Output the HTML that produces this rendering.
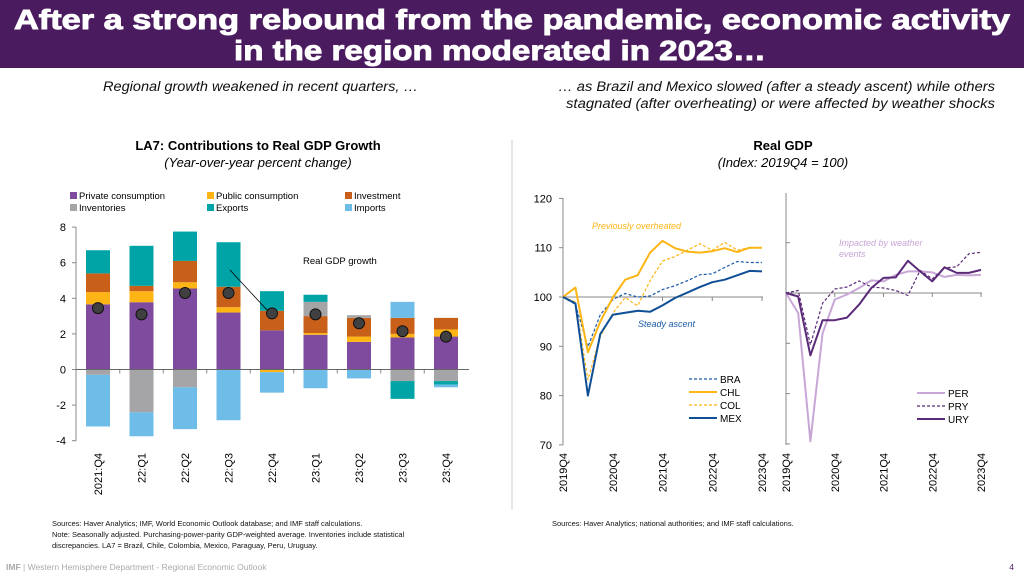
<!DOCTYPE html>
<html><head><meta charset="utf-8"><style>
body{margin:0;background:#fff;font-family:"Liberation Sans",Arial,sans-serif}
svg{display:block}
text{font-family:"Liberation Sans",Arial,sans-serif}
</style></head><body>
<svg id="s" width="1024" height="576" viewBox="0 0 1024 576">
<rect x="0" y="0" width="1024" height="68" fill="#4b1b5f"/>
<text x="14" y="29" font-size="28" font-weight="bold" fill="#fff" stroke="#fff" stroke-width="0.9" textLength="996" lengthAdjust="spacingAndGlyphs">After a strong rebound from the pandemic, economic activity</text>
<text x="234" y="60" font-size="28" font-weight="bold" fill="#fff" stroke="#fff" stroke-width="0.9" textLength="532" lengthAdjust="spacingAndGlyphs">in the region moderated in 2023…</text>
<text x="103" y="91" font-size="13.5" font-style="italic" fill="#111" textLength="315" lengthAdjust="spacingAndGlyphs">Regional growth weakened in recent quarters, …</text>
<text x="558" y="91" font-size="13.5" font-style="italic" fill="#111" textLength="437" lengthAdjust="spacingAndGlyphs">… as Brazil and Mexico slowed (after a steady ascent) while others</text>
<text x="566" y="108" font-size="13.5" font-style="italic" fill="#111" textLength="429" lengthAdjust="spacingAndGlyphs">stagnated (after overheating) or were affected by weather shocks</text>
<line x1="512" y1="140" x2="512" y2="510" stroke="#ddd" stroke-width="1.5"/>
<text x="258" y="150" text-anchor="middle" font-size="13" font-weight="bold">LA7: Contributions to Real GDP Growth</text>
<text x="258" y="167" text-anchor="middle" font-size="13" font-style="italic">(Year-over-year percent change)</text>
<text x="783" y="150" text-anchor="middle" font-size="13" font-weight="bold">Real GDP</text>
<text x="783" y="167" text-anchor="middle" font-size="13" font-style="italic">(Index: 2019Q4 = 100)</text>
<g id="left"></g><g id="right"></g>
<text x="52" y="526" font-size="7.5" fill="#111">Sources: Haver Analytics; IMF, World Economic Outlook database; and IMF staff calculations.</text>
<text x="52" y="537" font-size="7.5" fill="#111">Note: Seasonally adjusted. Purchasing-power-parity GDP-weighted average. Inventories include statistical</text>
<text x="52" y="548" font-size="7.5" fill="#111">discrepancies. LA7 = Brazil, Chile, Colombia, Mexico, Paraguay, Peru, Uruguay.</text>
<text x="552" y="526" font-size="7.5" fill="#111">Sources: Haver Analytics; national authorities; and IMF staff calculations.</text>
<text x="6" y="570" font-size="8.5" fill="#aaa"><tspan font-weight="bold">IMF</tspan> | Western Hemisphere Department - Regional Economic Outlook</text>
<text x="1014" y="570" font-size="8.5" fill="#4b1b5f" text-anchor="end">4</text>
</svg>
<script>
const NS="http://www.w3.org/2000/svg";
const quarters=["2021:Q4","22:Q1","22:Q2","22:Q3","22:Q4","23:Q1","23:Q2","23:Q3","23:Q4"];
const seriesNames=["Private consumption","Public consumption","Investment","Inventories","Exports","Imports"];
const seriesColors=["#7f4b9e","#fdb515","#c9601a","#a5a5a7","#00a4a7","#6dbde8"];
const privCons=[3.66,3.78,4.55,3.2,2.2,1.95,1.55,1.8,1.85];
const pubCons=[0.69,0.62,0.35,0.3,-0.15,0.1,0.3,0.2,0.4];
const investment=[1.05,0.3,1.2,1.15,1.1,0.95,1.05,0.9,0.65];
const inventories=[-0.3,-2.4,-1.0,0,0,0.8,0.15,-0.65,-0.65];
const exportsC=[1.3,2.25,1.65,2.5,1.1,0.4,0,-1.0,-0.2];
const importsC=[-2.9,-1.35,-2.35,-2.85,-1.15,-1.05,-0.5,0.9,-0.15];
const gdpGrowth=[3.45,3.1,4.3,4.3,3.15,3.1,2.6,2.15,1.85];
const leftTicks=[-4,-2,0,2,4,6,8];

const idxQuarters=["2019Q4","2020Q1","2020Q2","2020Q3","2020Q4","2021Q1","2021Q2","2021Q3","2021Q4","2022Q1","2022Q2","2022Q3","2022Q4","2023Q1","2023Q2","2023Q3","2023Q4"];
const BRA=[100,98.5,89.9,96.4,99.5,100.7,100,100.2,101.5,102.3,103.3,104.5,104.7,106,107.2,107,107];
const CHL=[100,101.9,88.8,95,99.9,103.5,104.4,109,111.4,109.9,109.2,109,109.3,109.9,109.1,110,110];
const COL=[100,99,83.2,92,96.7,99.9,98.2,103.3,107.3,108.2,109.5,110.8,109.5,111.1,109.5,110,110];
const MEX=[100,98.7,80,92.5,96.4,96.8,97.2,97,98.3,99.8,100.9,102,103,103.5,104.4,105.3,105.2];
const PER=[100,96,70.5,92,98.7,99.7,101,102.5,102.3,103.6,104.3,104.3,104.1,103.2,103.6,103.5,103.6];
const PRY=[100,100.5,89.7,98,100.8,101.2,102.4,101.2,101,100.5,99.5,104.5,102.8,105,105.2,107.8,108.1];
const URY=[100,99.3,87.6,94.6,94.6,95.1,97.7,101,103,103.1,106.4,104.3,102.3,105.1,104,104,104.6];
const idxTicks=[70,80,90,100,110,120];
const xLabels=["2019Q4","2020Q4","2021Q4","2022Q4","2023Q4"];

function el(tag,attrs,parent,txt){const e=document.createElementNS(NS,tag);for(const k in attrs)e.setAttribute(k,attrs[k]);if(txt!==undefined)e.textContent=txt;parent.appendChild(e);return e;}

// LEFT CHART
const L=document.getElementById('left');
const ly=v=>369.5-v*17.8;
const lx=i=>98+i*43.5;
const bw=24;
el('line',{x1:76,y1:ly(8),x2:76,y2:ly(-4),stroke:'#888'},L);
leftTicks.forEach(t=>{
  el('line',{x1:72,y1:ly(t),x2:76,y2:ly(t),stroke:'#888'},L);
  const tx=el('text',{x:66,y:ly(t)+4,'text-anchor':'end','font-size':11},L,String(t));
  
  
});
const comps=[privCons,pubCons,investment,inventories,exportsC,importsC];
quarters.forEach((q,i)=>{
  let pos=0,neg=0;
  comps.forEach((arr,k)=>{
    const v=arr[i]; if(!v) return;
    let y0,y1;
    if(v>0){y0=pos;pos+=v;y1=pos;}else{y0=neg;neg+=v;y1=neg;}
    const r=el('rect',{x:lx(i)-bw/2,y:Math.min(ly(y0),ly(y1)),width:bw,height:Math.abs(ly(y0)-ly(y1)),fill:seriesColors[k]},L);
    
    
  });
  const t=el('text',{x:0,y:0,'font-size':11,'text-anchor':'end',transform:`translate(${lx(i)+4},${453}) rotate(-90)`},L,q);
  
  
  if(i>0){el('line',{x1:lx(i)-21.75,y1:369.5,x2:lx(i)-21.75,y2:373.5,stroke:'#888'},L);}
});
el('line',{x1:76,y1:ly(0),x2:469,y2:ly(0),stroke:'#666'},L);
el('line',{x1:230,y1:270,x2:272,y2:ly(gdpGrowth[4])+2,stroke:'#000','stroke-width':0.8},L);
const ann=el('text',{x:303,y:264,'font-size':9.5},L,'Real GDP growth');


gdpGrowth.forEach((v,i)=>{
  const c=el('circle',{cx:lx(i),cy:ly(v),r:5.5,fill:'#404040',stroke:'#111','stroke-width':1},L);
  
  
});
// legend
const legPos=[[70,198],[207,198],[345,198],[70,210],[207,210],[345,210]];
seriesNames.forEach((n,k)=>{
  const g=el('g',{},L);
  
  
  el('rect',{x:legPos[k][0],y:legPos[k][1]-6,width:7,height:7,fill:seriesColors[k]},g);
  el('text',{x:legPos[k][0]+9,y:legPos[k][1]+1,'font-size':9.5},g,n);
});

// RIGHT CHART
const R=document.getElementById('right');
const ay=v=>297-(v-100)*4.93;
const ax=i=>563+i*12.44;
const by=v=>293-(v-100)*5.03;
const bx=i=>786+i*12.19;
el('line',{x1:563,y1:198,x2:563,y2:445,stroke:'#888'},R);
el('line',{x1:786,y1:193,x2:786,y2:445,stroke:'#888'},R);
idxTicks.forEach(t=>{
  el('line',{x1:559,y1:ay(t),x2:563,y2:ay(t),stroke:'#888'},R);
  const tx=el('text',{x:552,y:ay(t)+4,'text-anchor':'end','font-size':11},R,String(t));
  
  
  if(t<=110) el('line',{x1:786,y1:by(t),x2:790,y2:by(t),stroke:'#888'},R);
});
el('line',{x1:563,y1:ay(100),x2:763,y2:ay(100),stroke:'#888'},R);
el('line',{x1:786,y1:by(100),x2:982,y2:by(100),stroke:'#888'},R);
xLabels.forEach((lab,j)=>{
  [[ax,'a'],[bx,'b']].forEach(([fx,p])=>{
    const x=fx(j*4);
    const ty=p==='a'?ay(100):by(100);
    el('line',{x1:x,y1:ty,x2:x,y2:ty+4,stroke:'#888'},R);
    const t=el('text',{x:0,y:0,'font-size':11,'text-anchor':'end',transform:`translate(${x+4},${453}) rotate(-90)`},R,lab);
    
    
  });
});
function line(arr,fx,fy,color,w,dash,name){
  const d=arr.map((v,i)=>(i?'L':'M')+fx(i).toFixed(1)+','+fy(v).toFixed(1)).join('');
  const p=el('path',{d:d,fill:'none',stroke:color,'stroke-width':w,'stroke-dasharray':dash||'none','stroke-linejoin':'round'},R);
  
  
}
line(COL,ax,ay,'#fdb515',1.2,'3,2','col');
line(BRA,ax,ay,'#1a5aa6',1.2,'3,2','bra');
line(CHL,ax,ay,'#fdb515',2,null,'chl');
line(MEX,ax,ay,'#0f4f96',2,null,'mex');
line(PER,bx,by,'#c8a6d6',2,null,'per');
line(PRY,bx,by,'#5b2a78',1.2,'3,2','pry');
line(URY,bx,by,'#5b2a78',2,null,'ury');
function ltxt(x,y,s,c,name){const t=el('text',{x:x,y:y,'font-size':9,'font-style':'italic',fill:c},R,s);}
ltxt(592,229,'Previously overheated','#fdb515','annotation-overheated');
ltxt(638,327,'Steady ascent','#1a5aa6','annotation-steady');
ltxt(839,246,'Impacted by weather','#c8a6d6','annotation-weather-1');
ltxt(839,257,'events','#c8a6d6','annotation-weather-2');
function leg(x,y,name,color,w,dash){
  const g=el('g',{},R);
  
  
  el('line',{x1:x,y1:y,x2:x+28,y2:y,stroke:color,'stroke-width':w,'stroke-dasharray':dash||'none'},g);
  el('text',{x:x+31,y:y+4,'font-size':10},g,name);
}
leg(689,379,'BRA','#1a5aa6',1.2,'3,2');
leg(689,392,'CHL','#fdb515',2);
leg(689,405,'COL','#fdb515',1.2,'3,2');
leg(689,418,'MEX','#0f4f96',2);
leg(917,393,'PER','#c8a6d6',2);
leg(917,406,'PRY','#5b2a78',1.2,'3,2');
leg(917,419,'URY','#5b2a78',2);
</script>
</body></html>
